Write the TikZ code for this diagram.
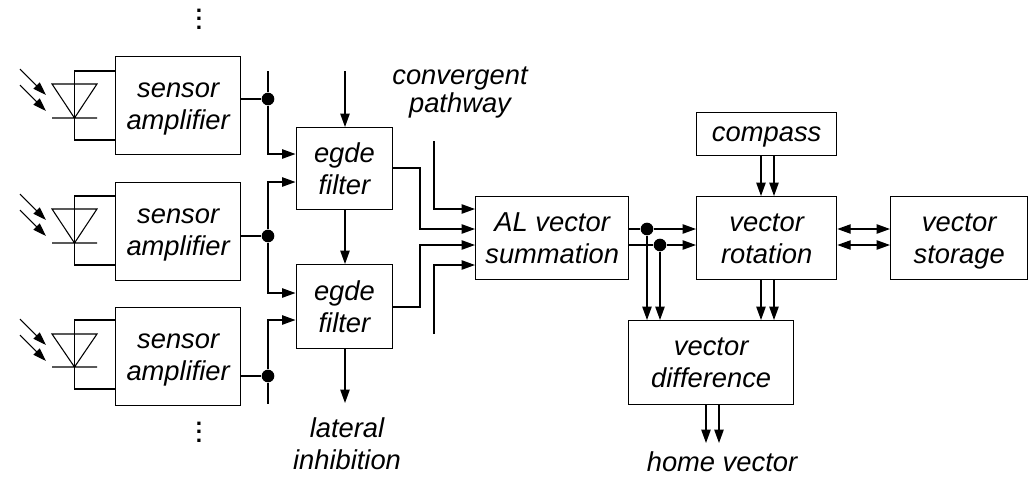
\documentclass[tikz,border=0pt]{standalone}
\usepackage{fontspec}
\setmainfont{Liberation Sans}
\usetikzlibrary{arrows.meta}
\tikzset{
  box/.style={draw,line width=1pt,anchor=north west,inner sep=0pt,align=center,font=\fontsize{20.5}{24}\selectfont\itshape},
  label/.style={inner sep=0pt,align=center,font=\fontsize{20.5}{24}\selectfont\itshape},
  wire/.style={line width=0.95pt},
  arr/.style={wire,-{Triangle[length=10pt,width=7pt]}},
  biarr/.style={wire,{Triangle[length=10pt,width=7pt]}-{Triangle[length=10pt,width=7pt]}},
  thin wire/.style={line width=0.8pt},
  ray/.style={thin wire,-{Triangle[length=10pt,width=6.5pt]}},
  dot/.style={circle,fill=black,inner sep=0pt,minimum size=9.5pt},
  vdots/.style={inner sep=0pt,align=center,font=\fontsize{17}{6.3}\selectfont\bfseries}
}
\begin{document}
\begin{tikzpicture}[x=0.75pt,y=0.75pt,yscale=-1,xscale=1]
\useasboundingbox (0,0) rectangle (1028,476);

%Boxes
\node [box,text depth=0pt,minimum width=93.75pt,minimum height=73.5pt] (amplA) at (115,56) {sensor\\amplifier};
\node [box,text depth=0pt,minimum width=93.75pt,minimum height=73.5pt] (amplB) at (115,182) {sensor\\amplifier};
\node [box,text depth=0pt,minimum width=93.75pt,minimum height=73.5pt] (amplC) at (115,307) {sensor\\amplifier};
\node [box,text depth=-6.7pt,minimum width=72.4pt,minimum height=61.5pt] (filterA) at (295.5,127) {egde\\filter};
\node [box,text depth=-6.7pt,minimum width=72.4pt,minimum height=63pt] (filterB) at (295.5,264) {egde\\filter};
\node [box,minimum width=114.75pt,minimum height=62.25pt] (summation) at (475,196) {AL vector\\summation};
\node [box,text depth=-1.7pt,minimum width=105pt,minimum height=32.25pt] (compass) at (696,112) {compass};
\node [box,text depth=-1.5pt,minimum width=105pt,minimum height=62.25pt] (rotation) at (696,196) {vector\\rotation};
\node [box,text depth=-2.5pt,minimum width=102.75pt,minimum height=62.25pt] (storage) at (890,196) {vector\\storage};
\node [box,text depth=-1.5pt,minimum width=123.75pt,minimum height=63pt] (difference) at (628,320) {vector\\difference};

%Text labels
\node [label,font=\fontsize{20.5}{21}\selectfont\itshape] (convergent) at (460,92) {convergent\\pathway};
\node [label] (lateral) at (347,444) {lateral\\inhibition};
\node [label] (home) at (722,462) {home vector};
\node [vdots] (dotsTop) at (199,19) {.\\.\\.};
\node [vdots] (dotsBottom) at (199,432) {.\\.\\.};

%Diodes
\draw [thin wire] (52,84) -- (97,84) -- (74.5,118) -- cycle (52,118) -- (97,118);
\draw [wire] (amplA.west |- 0,71) -- (74.5,71) -- (74.5,140) -- (amplA.west |- 0,140);
\draw [ray] (20,69) -- (46,95);
\draw [ray] (20,85) -- (46,111);
\draw [thin wire] (52,209) -- (97,209) -- (74.5,243) -- cycle (52,243) -- (97,243);
\draw [wire] (amplB.west |- 0,196) -- (74.5,196) -- (74.5,265) -- (amplB.west |- 0,265);
\draw [ray] (20,194) -- (46,220);
\draw [ray] (20,210) -- (46,236);
\draw [thin wire] (52,334) -- (97,334) -- (74.5,367) -- cycle (52,367) -- (97,367);
\draw [wire] (amplC.west |- 0,320) -- (74.5,320) -- (74.5,389) -- (amplC.west |- 0,389);
\draw [ray] (20,319) -- (46,345);
\draw [ray] (20,335) -- (46,361);

%Junctions
\node [dot] (dotA) at (268,99) {};
\node [dot] (dotB) at (268,236) {};
\node [dot] (dotC) at (268,376) {};
\node [dot] (dotD) at (647,229) {};
\node [dot] (dotE) at (660,245) {};

%Free ends and entry points
\coordinate (tapA) at (268,71);
\coordinate (tapC) at (268,404);
\coordinate (inA) at (295.5,154);
\coordinate (inB) at (295.5,182);
\coordinate (inC) at (295.5,293);
\coordinate (inD) at (295.5,320);
\coordinate (lateralIn) at (345,71);
\coordinate (lateralOut) at (345,403);
\coordinate (pathA) at (434,141);
\coordinate (pathB) at (434,334);
\coordinate (outA) at (392,168);
\coordinate (outB) at (392,307);
\coordinate (sumA) at (475,209);
\coordinate (sumB) at (475,229);
\coordinate (sumC) at (475,245);
\coordinate (sumD) at (475,265);
\coordinate (homeA) at (706,443);
\coordinate (homeB) at (719,443);

%Sensor outputs
\draw [wire] (amplA.east |- dotA) -- (dotA);
\draw [wire] (amplB.east |- dotB) -- (dotB);
\draw [wire] (amplC.east |- dotC) -- (dotC);
\draw [wire] (tapA) -- (dotA);
\draw [arr] (dotA) |- (inA);
\draw [arr] (dotB) |- (inB);
\draw [arr] (dotB) |- (inC);
\draw [arr] (dotC) |- (inD);
\draw [wire] (dotC) -- (tapC);

%Lateral inhibition
\draw [arr] (lateralIn) -- (lateralIn |- filterA.north);
\draw [arr] (lateralIn |- filterA.south) -- (lateralIn |- filterB.north);
\draw [arr] (lateralIn |- filterB.south) -- (lateralOut);

%Summation inputs
\draw [arr] (pathA) |- (sumA);
\draw [arr] (outA) -- (420,168) |- (sumB);
\draw [arr] (outB) -- (420,307) |- (sumC);
\draw [arr] (pathB) |- (sumD);

%Summation outputs
\draw [wire] (summation.east |- dotD) -- (dotD);
\draw [wire] (summation.east |- dotE) -- (dotE);
\draw [arr] (dotD) -- (rotation.west |- dotD);
\draw [arr] (dotE) -- (rotation.west |- dotE);
\draw [arr] (dotD) -- (dotD |- difference.north);
\draw [arr] (dotE) -- (dotE |- difference.north);

%Rotation
\draw [arr] (761,155) -- (761,196);
\draw [arr] (774,155) -- (774,196);
\draw [arr] (761,279) -- (761,320);
\draw [arr] (774,279) -- (774,320);
\draw [biarr] (rotation.east |- dotD) -- (storage.west |- dotD);
\draw [biarr] (rotation.east |- dotE) -- (storage.west |- dotE);

%Home vector
\draw [arr] (homeA |- difference.south) -- (homeA);
\draw [arr] (homeB |- difference.south) -- (homeB);

\end{tikzpicture}
\end{document}
